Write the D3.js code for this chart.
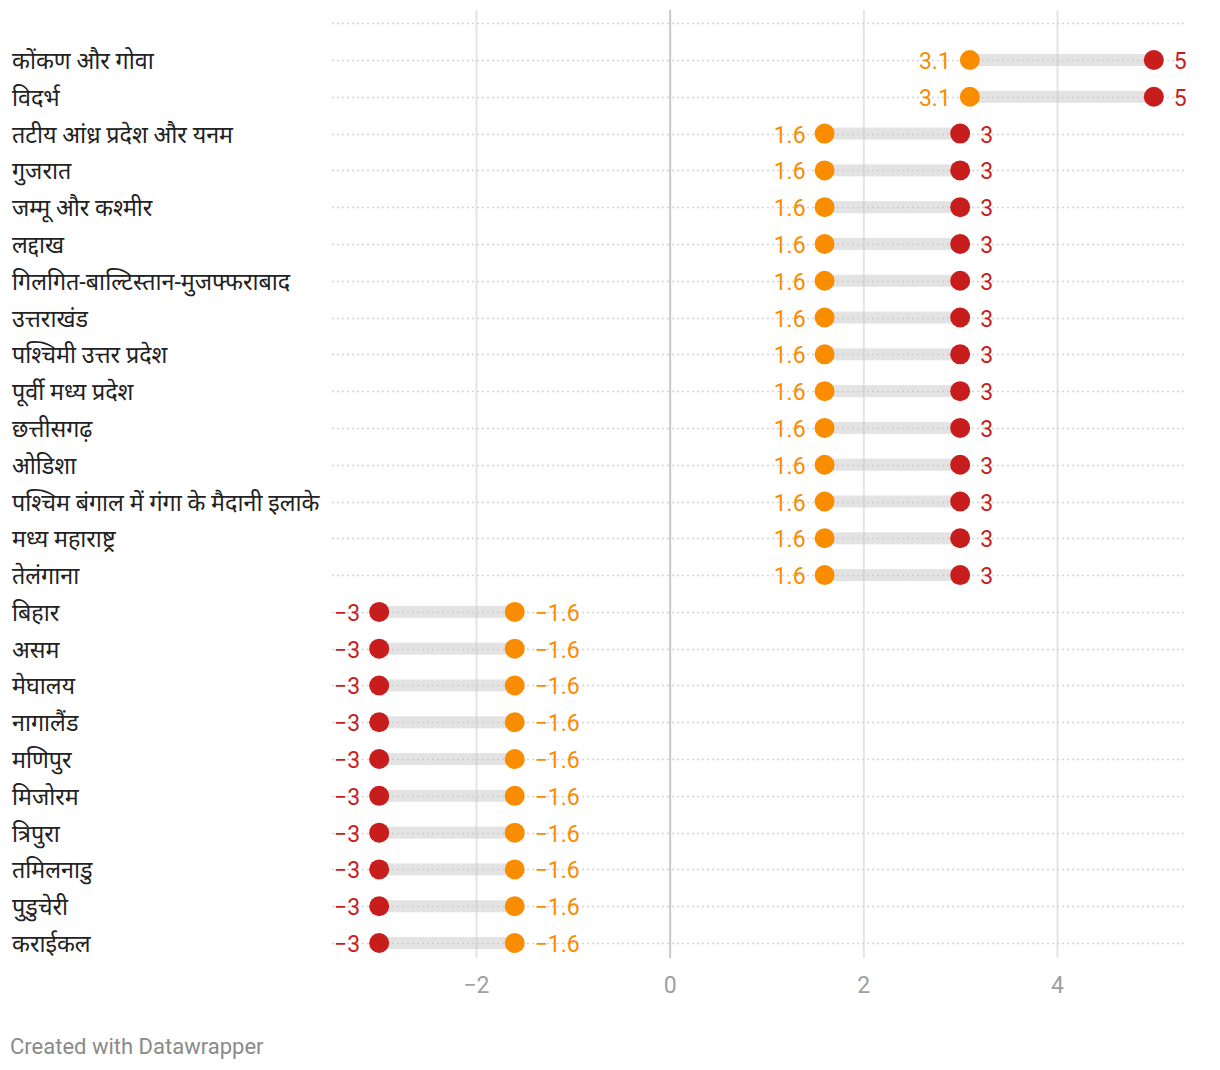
<!DOCTYPE html>
<html><head><meta charset="utf-8">
<script src="https://cdn.jsdelivr.net/npm/d3@7"></script>
<style>
body{margin:0;background:#fff;}
svg text{font-family:Roboto, "Noto Sans", sans-serif;}
</style></head>
<body>
<svg id="c" width="1220" height="1070"></svg>
<script>
const regions = ["कोंकण और गोवा","विदर्भ","तटीय आंध्र प्रदेश और यनम","गुजरात","जम्मू और कश्मीर","लद्दाख","गिलगित-बाल्टिस्तान-मुजफ्फराबाद","उत्तराखंड","पश्चिमी उत्तर प्रदेश","पूर्वी मध्य प्रदेश","छत्तीसगढ़","ओडिशा","पश्चिम बंगाल में गंगा के मैदानी इलाके","मध्य महाराष्ट्र","तेलंगाना","बिहार","असम","मेघालय","नागालैंड","मणिपुर","मिजोरम","त्रिपुरा","तमिलनाडु","पुडुचेरी","कराईकल"];
const orangeValues = [3.1,3.1,1.6,1.6,1.6,1.6,1.6,1.6,1.6,1.6,1.6,1.6,1.6,1.6,1.6,-1.6,-1.6,-1.6,-1.6,-1.6,-1.6,-1.6,-1.6,-1.6,-1.6];
const redValues = [5,5,3,3,3,3,3,3,3,3,3,3,3,3,3,-3,-3,-3,-3,-3,-3,-3,-3,-3,-3];
const tickValues = [-2,0,2,4];

const svg = d3.select("#c");
const x = d3.scaleLinear().domain([-2,4]).range([476,1057]);
const xMin = 332, xMax = 1186;
const y = d3.scalePoint().domain(d3.range(regions.length)).range([60,943]);
const step = y.step();
const fmt = v => (v<0?"\u2212":"") + Math.abs(v);

// vertical gridlines
svg.append("g").selectAll("line").data(tickValues).join("line")
  .attr("x1",d=>x(d)+0.5).attr("x2",d=>x(d)+0.5).attr("y1",10).attr("y2",958)
  .attr("stroke",d=>d===0?"#c8c8c8":"#e4e4e4").attr("stroke-width",2);

// dotted row lines
const rowLines = [y(0)-step].concat(regions.map((r,i)=>y(i)));
svg.append("g").selectAll("line").data(rowLines).join("line")
  .attr("x1",xMin).attr("x2",xMax).attr("y1",d=>Math.round(d)+0.5).attr("y2",d=>Math.round(d)+0.5)
  .attr("stroke","#d4d4d4").attr("stroke-width",1.3).attr("stroke-dasharray","2,3");

// axis tick labels
const ax = d3.axisBottom(x).tickValues(tickValues).tickSize(0).tickFormat(fmt);
const gA = svg.append("g").attr("transform","translate(0,974)").call(ax);
gA.select(".domain").remove();
gA.selectAll("text").attr("fill","#a0a0a0").style("font-size","23px").style("font-family","Roboto");

const rows = svg.append("g").selectAll("g").data(regions).join("g")
  .attr("transform",(d,i)=>`translate(0,${y(i)})`);

// labels
rows.append("text").attr("x",12).attr("y",9).attr("fill","#222")
  .style("font-size","23.3px").text(d=>d);

// range bars
rows.append("rect")
  .attr("x",(d,i)=>Math.min(x(orangeValues[i]),x(redValues[i])))
  .attr("width",(d,i)=>Math.abs(x(redValues[i])-x(orangeValues[i])))
  .attr("y",-6).attr("height",12).attr("fill","#c8c8c8").attr("opacity",0.5);

// dots
rows.append("circle").attr("cx",(d,i)=>x(orangeValues[i])).attr("r",10).attr("fill","#fa8c00");
rows.append("circle").attr("cx",(d,i)=>x(redValues[i])).attr("r",10).attr("fill","#c71e1d");

// value labels
rows.append("text")
  .attr("x",(d,i)=>{const o=orangeValues[i], r=redValues[i]; return o<r ? x(o)-19 : x(o)+20;})
  .attr("text-anchor",(d,i)=>orangeValues[i]<redValues[i]?"end":"start")
  .attr("y",9).attr("fill","#fa8c00").style("font-size","23px").style("font-family","Roboto")
  .text((d,i)=>fmt(orangeValues[i]));
rows.append("text")
  .attr("x",(d,i)=>{const o=orangeValues[i], r=redValues[i]; return r>o ? x(r)+20 : x(r)-19;})
  .attr("text-anchor",(d,i)=>redValues[i]>orangeValues[i]?"start":"end")
  .attr("y",9).attr("fill","#c71e1d").style("font-size","23px").style("font-family","Roboto")
  .text((d,i)=>fmt(redValues[i]));

svg.append("text").attr("x",10).attr("y",1054).attr("fill","#8a8a8a")
  .style("font-size","22px").style("font-family","Roboto").text("Created with Datawrapper");
</script>
</body></html>
